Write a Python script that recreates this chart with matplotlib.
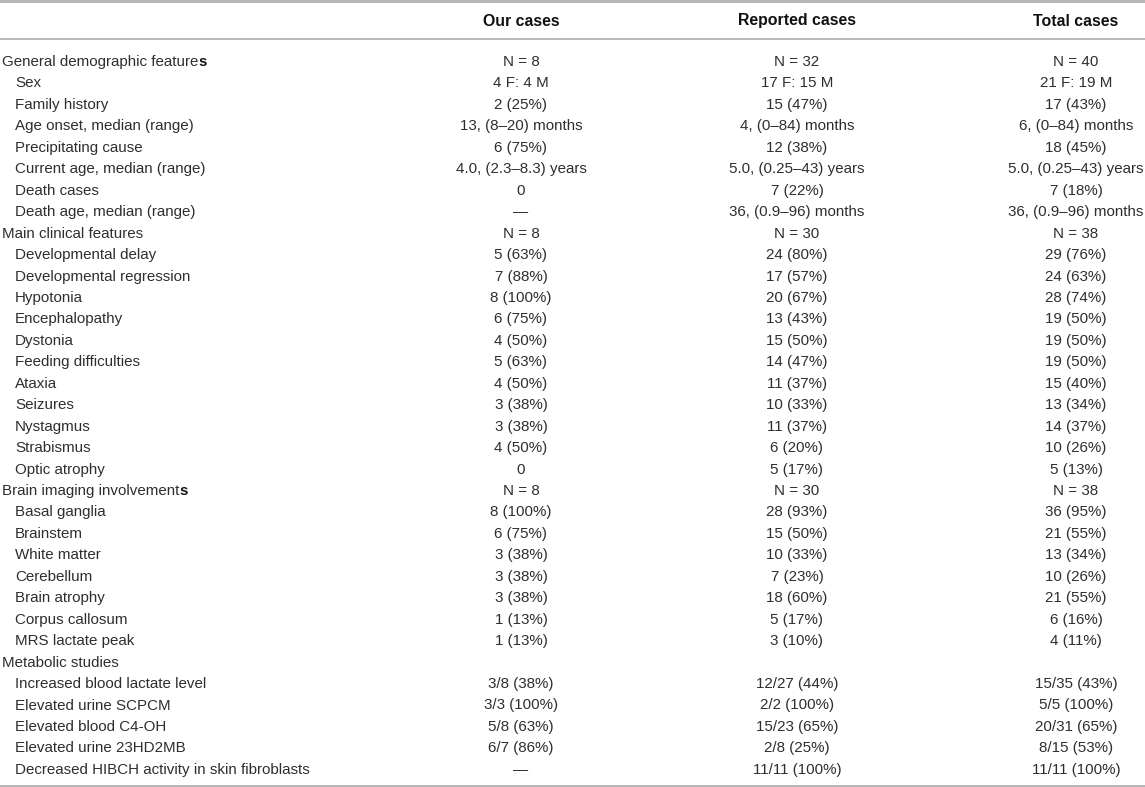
import matplotlib
matplotlib.use("Agg")
import matplotlib.pyplot as plt

plt.rcParams['font.family'] = ['Liberation Sans', 'DejaVu Sans']

columns = ["Our cases", "Reported cases", "Total cases"]

labels = [
    "General demographic features", "Sex", "Family history", "Age onset, median (range)",
    "Precipitating cause", "Current age, median (range)", "Death cases", "Death age, median (range)",
    "Main clinical features", "Developmental delay", "Developmental regression", "Hypotonia",
    "Encephalopathy", "Dystonia", "Feeding difficulties", "Ataxia", "Seizures", "Nystagmus",
    "Strabismus", "Optic atrophy",
    "Brain imaging involvements", "Basal ganglia", "Brainstem", "White matter", "Cerebellum",
    "Brain atrophy", "Corpus callosum", "MRS lactate peak",
    "Metabolic studies", "Increased blood lactate level", "Elevated urine SCPCM",
    "Elevated blood C4-OH", "Elevated urine 23HD2MB", "Decreased HIBCH activity in skin fibroblasts",
]
section = [True, False, False, False, False, False, False, False,
           True] + [False] * 11 + [True] + [False] * 7 + [True] + [False] * 5
bold_s = {0, 20}

our_cases = [
    "N = 8", "4 F: 4 M", "2 (25%)", "13, (8–20) months", "6 (75%)", "4.0, (2.3–8.3) years", "0", "—",
    "N = 8", "5 (63%)", "7 (88%)", "8 (100%)", "6 (75%)", "4 (50%)", "5 (63%)", "4 (50%)",
    "3 (38%)", "3 (38%)", "4 (50%)", "0",
    "N = 8", "8 (100%)", "6 (75%)", "3 (38%)", "3 (38%)", "3 (38%)", "1 (13%)", "1 (13%)",
    "", "3/8 (38%)", "3/3 (100%)", "5/8 (63%)", "6/7 (86%)", "—",
]
reported_cases = [
    "N = 32", "17 F: 15 M", "15 (47%)", "4, (0–84) months", "12 (38%)", "5.0, (0.25–43) years",
    "7 (22%)", "36, (0.9–96) months",
    "N = 30", "24 (80%)", "17 (57%)", "20 (67%)", "13 (43%)", "15 (50%)", "14 (47%)", "11 (37%)",
    "10 (33%)", "11 (37%)", "6 (20%)", "5 (17%)",
    "N = 30", "28 (93%)", "15 (50%)", "10 (33%)", "7 (23%)", "18 (60%)", "5 (17%)", "3 (10%)",
    "", "12/27 (44%)", "2/2 (100%)", "15/23 (65%)", "2/8 (25%)", "11/11 (100%)",
]
total_cases = [
    "N = 40", "21 F: 19 M", "17 (43%)", "6, (0–84) months", "18 (45%)", "5.0, (0.25–43) years",
    "7 (18%)", "36, (0.9–96) months",
    "N = 38", "29 (76%)", "24 (63%)", "28 (74%)", "19 (50%)", "19 (50%)", "19 (50%)", "15 (40%)",
    "13 (34%)", "14 (37%)", "10 (26%)", "5 (13%)",
    "N = 38", "36 (95%)", "21 (55%)", "13 (34%)", "10 (26%)", "21 (55%)", "6 (16%)", "4 (11%)",
    "", "15/35 (43%)", "5/5 (100%)", "20/31 (65%)", "8/15 (53%)", "11/11 (100%)",
]

W, H = 1145, 787
fig = plt.figure(figsize=(W / 100, H / 100), dpi=100)
ax = fig.add_axes([0, 0, 1, 1])
ax.set_xlim(0, W)
ax.set_ylim(H, 0)
ax.axis('off')

fs = 10.9
fs_head = 11.4
txt_color = '#2e2e2e'
line_color = '#b8b8b8'
col_x = [521, 797, 1076]
header_base = 25.5
row0_base = 66
dy = 21.45

ax.axhline(1.2, color=line_color, lw=2.2)
ax.axhline(39, color=line_color, lw=1.4)
ax.axhline(785.5, color=line_color, lw=2.2)

for cx, name in zip(col_x, columns):
    ax.text(cx, header_base, name, ha='center', va='baseline', fontsize=fs_head,
            fontweight='bold', color='#111111')

for i, lab in enumerate(labels):
    y = row0_base + i * dy
    x = 2 if section[i] else 15
    if i in bold_s:
        t = ax.text(x, y, lab[:-1], ha='left', va='baseline', fontsize=fs, color=txt_color)
        ax.annotate(lab[-1], xy=(1, 0), xycoords=t, ha='left', va='bottom',
                    fontsize=fs, fontweight='bold', color='#111111')
    else:
        ax.text(x, y, lab, ha='left', va='baseline', fontsize=fs, color=txt_color)
    for cx, vals in zip(col_x, [our_cases, reported_cases, total_cases]):
        if vals[i]:
            ax.text(cx, y, vals[i], ha='center', va='baseline', fontsize=fs, color=txt_color)

fig.savefig("out.png", dpi=100)
